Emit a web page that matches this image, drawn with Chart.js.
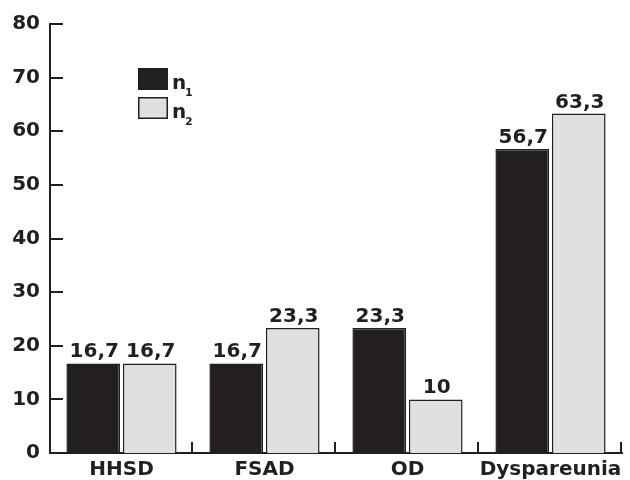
<!DOCTYPE html>
<html>
<head>
<meta charset="utf-8">
<script src="https://cdn.jsdelivr.net/npm/chart.js@4"></script>
<style>
html,body{margin:0;padding:0;background:#fff;}
#wrap{width:630px;height:480px;}
</style>
</head>
<body>
<div id="wrap"><canvas id="c" width="630" height="480"></canvas></div>
<script>
const categories = ['HHSD', 'FSAD', 'OD', 'Dyspareunia'];
const n1Values = [16.7, 16.7, 23.3, 56.7];
const n2Values = [16.7, 23.3, 10, 63.3];
const seriesNames = ['n1', 'n2'];
const yTickValues = [0, 10, 20, 30, 40, 50, 60, 70, 80];

const INK = '#231f20';
const GRAY = '#dfe0e2';
const FONT = '"DejaVu Sans", "Liberation Sans", Arial, sans-serif';

const fmt = v => String(v).replace('.', ',');

const decorPlugin = {
  id: 'decor',
  afterDatasetsDraw(chart) {
    const ctx = chart.ctx;
    const xs = chart.scales.x, ys = chart.scales.y;
    const area = chart.chartArea;
    ctx.save();
    // value labels
    ctx.fillStyle = INK;
    ctx.font = 'bold 20px ' + FONT;
    ctx.textAlign = 'center';
    ctx.textBaseline = 'alphabetic';
    chart.data.datasets.forEach((ds, di) => {
      const meta = chart.getDatasetMeta(di);
      meta.data.forEach((bar, i) => {
        ctx.fillText(fmt(ds.data[i]), bar.x + 1, bar.y - 6);
      });
    });
    // y ticks (inward)
    ctx.strokeStyle = INK;
    ctx.lineWidth = 2;
    ys.ticks.forEach(t => {
      const y = Math.round(ys.getPixelForValue(t.value));
      ctx.beginPath();
      ctx.moveTo(area.left, y);
      ctx.lineTo(area.left + 13, y);
      ctx.stroke();
    });
    // x ticks (category boundaries, upward)
    const n = categories.length;
    for (let i = 1; i <= n; i++) {
      const x = Math.round(xs.left + (xs.right - xs.left) * i / n) - 1;
      ctx.beginPath();
      ctx.moveTo(x, area.bottom);
      ctx.lineTo(x, area.bottom - 11);
      ctx.stroke();
    }
    // legend
    const boxes = [
      {y: 68, fill: INK, sub: '1'},
      {y: 97, fill: GRAY, sub: '2'}
    ];
    boxes.forEach(b => {
      ctx.fillStyle = b.fill;
      ctx.fillRect(138, b.y, 30, 22);
      ctx.lineWidth = 1.5;
      ctx.strokeStyle = INK;
      ctx.strokeRect(138.75, b.y + 0.75, 28.5, 20.5);
      ctx.fillStyle = INK;
      ctx.textAlign = 'left';
      ctx.font = 'bold 20px ' + FONT;
      ctx.fillText('n', 172, b.y + 21);
      ctx.font = 'bold 11px ' + FONT;
      ctx.fillText(b.sub, 185, b.y + 28);
    });
    ctx.restore();
  }
};

new Chart(document.getElementById('c'), {
  type: 'bar',
  data: {
    labels: categories,
    datasets: [
      {label: seriesNames[0], data: n1Values, backgroundColor: INK, borderColor: INK, borderWidth: 1.5},
      {label: seriesNames[1], data: n2Values, backgroundColor: GRAY, borderColor: INK, borderWidth: 1.5}
    ]
  },
  options: {
    responsive: false,
    animation: false,
    devicePixelRatio: 1,
    categoryPercentage: 0.79,
    barPercentage: 0.95,
    layout: {padding: {top: 24, right: 8, left: 0, bottom: 0}},
    plugins: {legend: {display: false}, tooltip: {enabled: false}},
    scales: {
      x: {
        grid: {display: false, drawTicks: false},
        border: {display: true, color: INK, width: 2},
        ticks: {color: INK, font: {family: FONT, size: 20, weight: 'bold'}, padding: 5,
                maxRotation: 0, minRotation: 0, autoSkip: false},
        afterFit(scale) { scale.height = 27; }
      },
      y: {
        min: 0, max: 80,
        afterBuildTicks(scale) { scale.ticks = yTickValues.map(v => ({value: v})); },
        grid: {display: false, drawTicks: false},
        border: {display: true, color: INK, width: 2},
        ticks: {color: INK, font: {family: FONT, size: 20, weight: 'bold'}, padding: 10},
        afterFit(scale) { scale.width = 50; }
      }
    }
  },
  plugins: [decorPlugin]
});
</script>
</body>
</html>
